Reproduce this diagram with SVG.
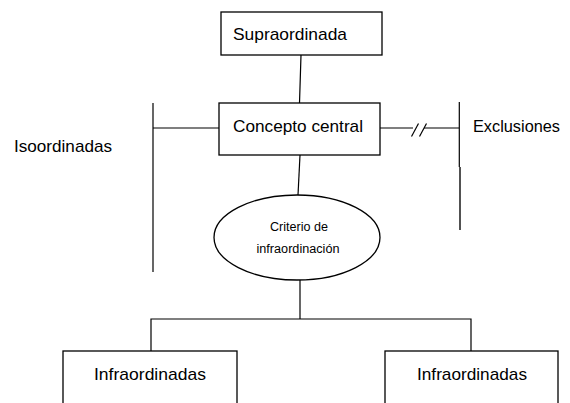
<svg xmlns="http://www.w3.org/2000/svg" width="570" height="403" viewBox="0 0 570 403">
<style>
.box{fill:#fff;stroke:#000;stroke-width:1.3}
.ln{fill:none;stroke:#000;stroke-width:1.2}
text{font-family:"Liberation Sans",Arial,sans-serif;fill:#000}
.t{font-size:17px}
.s{font-size:12.5px;text-anchor:middle}
</style>
<rect width="570" height="403" fill="#fff"/>
<g id="connectors">
<line class="ln" x1="301" y1="55" x2="299.5" y2="103"/>
<line class="ln" x1="300" y1="155" x2="298" y2="195"/>
<line class="ln" x1="153" y1="103" x2="153" y2="272"/>
<line class="ln" x1="153" y1="128" x2="219" y2="128"/>
<line class="ln" x1="380" y1="128" x2="413" y2="128"/>
<line class="ln" x1="424" y1="128" x2="459" y2="128"/>
<line class="ln" x1="411.5" y1="136.5" x2="418.5" y2="123.5"/>
<line class="ln" x1="419.5" y1="136.5" x2="426.5" y2="123.5"/>
<line class="ln" x1="459.3" y1="102" x2="459.3" y2="167"/>
<line fill="none" stroke="#333" stroke-width="1.7" x1="460" y1="167" x2="460" y2="230"/>
<line class="ln" x1="300" y1="280" x2="300" y2="319"/>
<polyline class="ln" points="151,351 151,319 471,319 471,351"/>
</g>
<g id="supraordinada">
<rect class="box" x="221" y="12" width="161" height="43"/>
<text class="t" x="233" y="40" textLength="114" lengthAdjust="spacingAndGlyphs">Supraordinada</text>
</g>
<g id="concepto-central">
<rect class="box" x="219" y="103" width="161" height="52"/>
<text class="t" x="233" y="132" textLength="130" lengthAdjust="spacingAndGlyphs">Concepto central</text>
</g>
<g id="isoordinadas">
<text class="t" x="14" y="152" textLength="98" lengthAdjust="spacingAndGlyphs">Isoordinadas</text>
</g>
<g id="exclusiones">
<text class="t" x="473" y="132" textLength="87" lengthAdjust="spacingAndGlyphs">Exclusiones</text>
</g>
<g id="criterio">
<ellipse class="box" cx="297" cy="237.5" rx="83" ry="42.5"/>
<text class="s" x="299" y="231" textLength="58" lengthAdjust="spacingAndGlyphs">Criterio de</text>
<text class="s" x="298" y="253" textLength="83" lengthAdjust="spacingAndGlyphs">infraordinación</text>
</g>
<g id="infraordinadas-izq">
<rect class="box" x="63" y="351" width="174" height="80"/>
<text class="t" x="94" y="380" textLength="112" lengthAdjust="spacingAndGlyphs">Infraordinadas</text>
</g>
<g id="infraordinadas-der">
<rect class="box" x="385" y="351" width="173" height="80"/>
<text class="t" x="417" y="380" textLength="110" lengthAdjust="spacingAndGlyphs">Infraordinadas</text>
</g>
</svg>
